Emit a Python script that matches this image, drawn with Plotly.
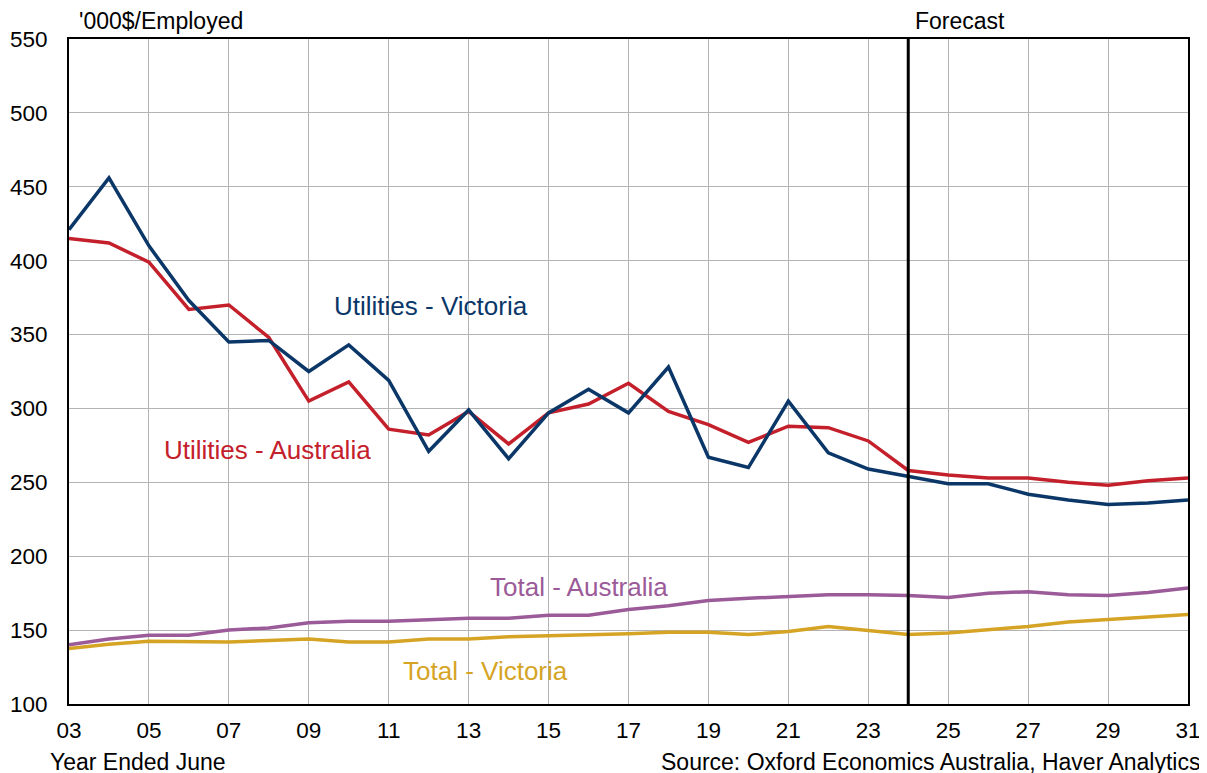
import plotly.graph_objects as go

years = list(range(3, 32))
tick_years = list(range(3, 32, 2))
tick_labels = [f"{y:02d}" for y in tick_years]

util_vic = [421, 456, 410, 373, 345, 346, 325, 343, 319, 271, 299, 266, 297, 313, 297, 328,
            267, 260, 305, 270, 259, 254, 249, 249, 242, 238, 235, 236, 238]
util_aus = [415, 412, 399, 367, 370, 348, 305, 318, 286, 282, 298, 276, 297, 303, 317, 298,
            289, 277, 288, 287, 278, 258, 255, 253, 253, 250, 248, 251, 253]
total_aus = [140, 144, 146.5, 146.5, 150, 151.5, 155, 156, 156, 157, 158, 158, 160, 160, 164, 166.5,
             170, 171.5, 173, 174, 174, 173.5, 172, 175, 176, 174, 173.5, 175.5, 178.5]
total_vic = [137.5, 140.5, 142.5, 142.5, 142, 143, 144, 142, 142, 144, 144, 145.5, 146, 147, 147.5, 148.5,
             148.5, 147, 149, 152.5, 150, 147, 148, 150, 152.5, 155.5, 157, 158.5, 160.5]

series_names = ["Utilities - Victoria", "Utilities - Australia", "Total - Australia", "Total - Victoria"]
label_x = [12.05, 7.97, 15.77, 13.41]
label_y = [369.5, 272, 179, 122.5]

forecast_year = 24

c_vic = "#0b3768"
c_aus = "#c4202c"
c_tot_aus = "#9b5a98"
c_tot_vic = "#d6a424"
colors = [c_vic, c_aus, c_tot_aus, c_tot_vic]
values = [util_vic, util_aus, total_aus, total_vic]

fig = go.Figure()
for i in [3, 2, 1, 0]:
    fig.add_trace(go.Scatter(x=years, y=values[i], mode="lines", name=series_names[i],
                             line=dict(color=colors[i], width=3.5), showlegend=False))

fig.add_shape(type="line", x0=forecast_year, x1=forecast_year, y0=0, y1=1,
              xref="x", yref="paper", line=dict(color="black", width=3))

font = "Liberation Sans, Arial, sans-serif"
for name, lx, ly, col in zip(series_names, label_x, label_y, colors):
    fig.add_annotation(x=lx, y=ly, xref="x", yref="y", text=name, showarrow=False,
                       font=dict(size=26, color=col, family=font))

fig.add_annotation(x=forecast_year, y=1, xref="x", yref="paper", text="Forecast",
                   xanchor="left", yanchor="bottom", showarrow=False, xshift=5, yshift=3,
                   font=dict(size=23, color="black", family=font))
fig.add_annotation(x=0, y=1, xref="paper", yref="paper", text="'000$/Employed",
                   xanchor="left", yanchor="bottom", showarrow=False, xshift=8, yshift=3,
                   font=dict(size=23, color="black", family=font))
fig.add_annotation(x=0, y=0, xref="paper", yref="paper", text="Year Ended June",
                   xanchor="left", yanchor="top", showarrow=False, xshift=-21, yshift=-43,
                   font=dict(size=23, color="black", family=font))
fig.add_annotation(x=1, y=0, xref="paper", yref="paper", text="Source: Oxford Economics Australia, Haver Analytics",
                   xanchor="right", yanchor="top", showarrow=False, xshift=14, yshift=-43,
                   font=dict(size=23, color="black", family=font))

fig.update_layout(
    width=1207, height=773,
    margin=dict(l=61, r=27, t=31, b=77, autoexpand=False),
    paper_bgcolor="white", plot_bgcolor="white",
    font=dict(family=font, size=22.5, color="black"),
    xaxis=dict(range=[3, 31], tickmode="array", tickvals=tick_years, ticktext=tick_labels,
               showgrid=True, gridcolor="#b4b4b4", gridwidth=1,
               showline=True, linecolor="black", linewidth=2, mirror=True, automargin=False,
               ticks="", zeroline=False, ticklabelstandoff=5),
    yaxis=dict(range=[100, 550], tickmode="array", tickvals=list(range(100, 551, 50)),
               showgrid=True, gridcolor="#b4b4b4", gridwidth=1,
               showline=True, linecolor="black", linewidth=2, mirror=True, automargin=False,
               ticks="", zeroline=False, ticklabelstandoff=15),
)

fig.write_html("out.html")
